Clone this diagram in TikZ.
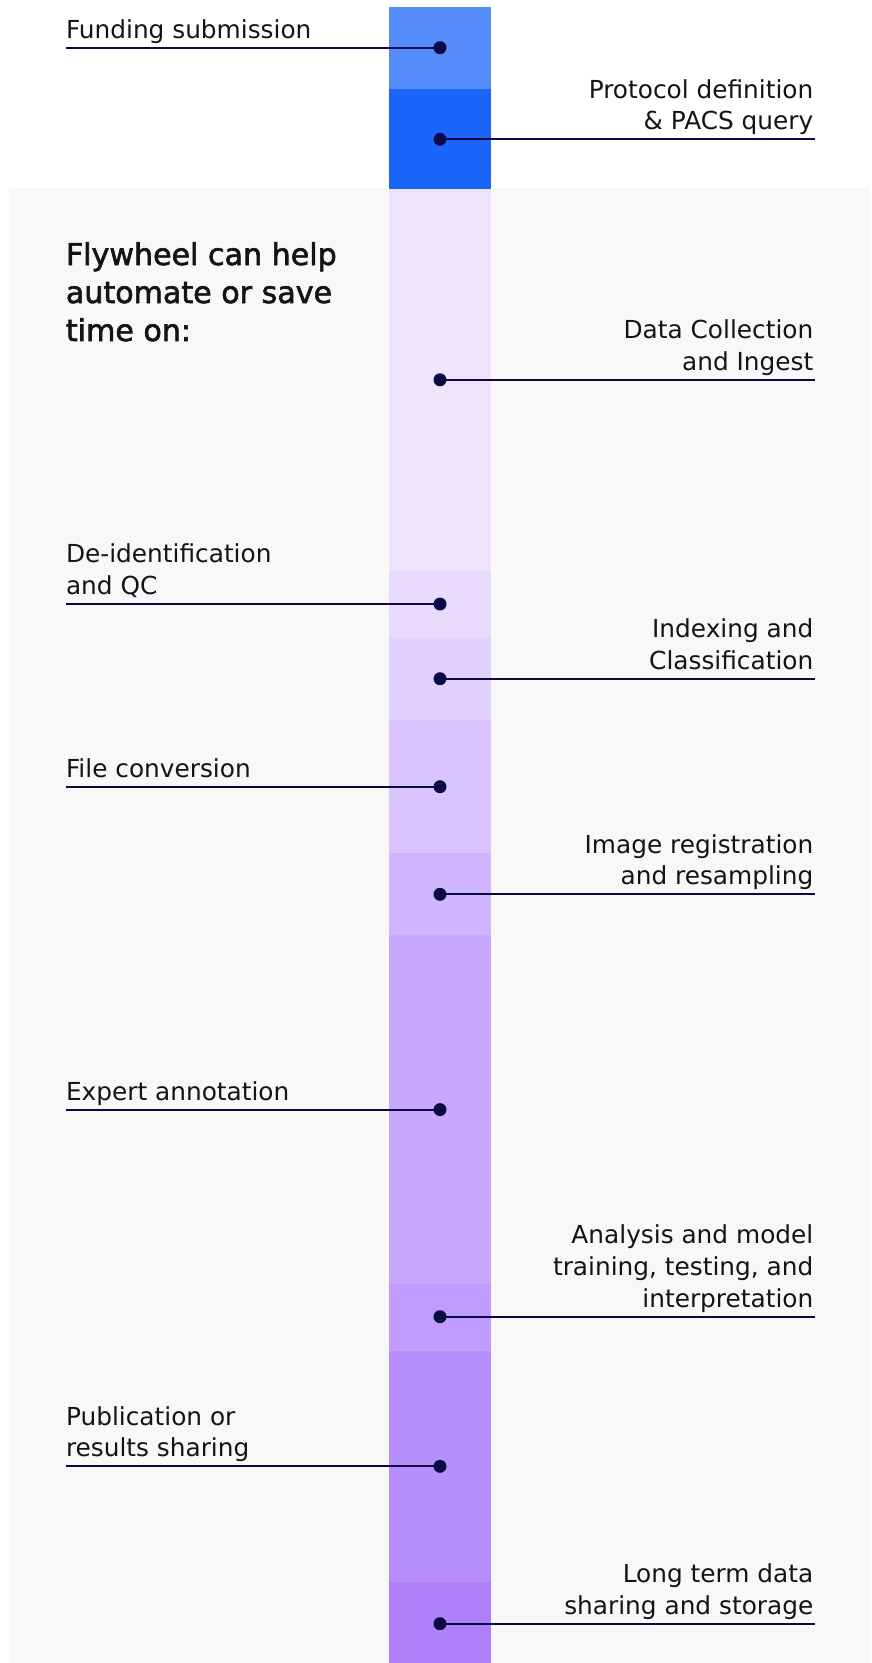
\documentclass[tikz,border=0pt]{standalone}
\usepackage{fontspec}
\setmainfont{DejaVu Sans}
\newfontfamily\titlefont[FakeBold=2]{DejaVu Sans}
\definecolor{bgray}{HTML}{F8F8F8}
\definecolor{navy}{HTML}{0B0A45}
\definecolor{ink}{HTML}{141418}
\definecolor{sa}{HTML}{548BF9}
\definecolor{sb}{HTML}{1C65FA}
\definecolor{sc}{HTML}{EEE4FC}
\definecolor{sd}{HTML}{E8DBFD}
\definecolor{se}{HTML}{E1D1FE}
\definecolor{sf}{HTML}{D9C4FE}
\definecolor{sg}{HTML}{CFB5FD}
\definecolor{sh}{HTML}{C7A8FD}
\definecolor{si}{HTML}{BF9CFD}
\definecolor{sj}{HTML}{B78FFC}
\definecolor{sk}{HTML}{AE81FB}
\tikzset{
  dotn/.style={circle,fill=navy,inner sep=0pt,minimum size=13pt},
  conn/.style={draw=navy,line width=2pt},
  lbl/.style={inner sep=0pt,text=ink,font=\fontsize{24.8}{31.8}\selectfont},
  lblL/.style={lbl,anchor=base west,align=left},
  lblR/.style={lbl,anchor=base east,align=right},
  ttl/.style={inner sep=0pt,text=ink,anchor=base west,align=left,font=\titlefont\fontsize{30.1}{38}\selectfont}
}
\begin{document}
\begin{tikzpicture}[x=1pt,y=-1pt]
\useasboundingbox (0,0) rectangle (872,1663);
\fill[white] (0,0) rectangle (872,1663);
\fill[bgray] (9,188) rectangle (870,1663);
% bar segments
\fill[sa] (389,7) rectangle (491,89);
\fill[sb] (389,89) rectangle (491,189);
\fill[sc] (389,189) rectangle (491,571);
\fill[sd] (389,571) rectangle (491,638);
\fill[se] (389,638) rectangle (491,720);
\fill[sf] (389,720) rectangle (491,853);
\fill[sg] (389,853) rectangle (491,935);
\fill[sh] (389,935) rectangle (491,1284);
\fill[si] (389,1284) rectangle (491,1351);
\fill[sj] (389,1351) rectangle (491,1582);
\fill[sk] (389,1582) rectangle (491,1663);
% line ends
\coordinate (e1) at (65.8,47.7);
\coordinate (e2) at (815,139.3);
\coordinate (e3) at (815,379.8);
\coordinate (e4) at (65.8,604);
\coordinate (e5) at (815,678.7);
\coordinate (e6) at (65.8,786.7);
\coordinate (e7) at (815,894.3);
\coordinate (e8) at (65.8,1109.6);
\coordinate (e9) at (815,1316.7);
\coordinate (e10) at (65.8,1466.3);
\coordinate (e11) at (815,1623.7);
% dots
\node[dotn] (d1) at (440,47.7) {};
\node[dotn] (d2) at (440,139.3) {};
\node[dotn] (d3) at (440,379.8) {};
\node[dotn] (d4) at (440,604) {};
\node[dotn] (d5) at (440,678.7) {};
\node[dotn] (d6) at (440,786.7) {};
\node[dotn] (d7) at (440,894.3) {};
\node[dotn] (d8) at (440,1109.6) {};
\node[dotn] (d9) at (440,1316.7) {};
\node[dotn] (d10) at (440,1466.3) {};
\node[dotn] (d11) at (440,1623.7) {};
% connectors
\foreach \i in {1,...,11} { \draw[conn] (d\i.center) -- (e\i); }
% title
\node[ttl] (title) at (65.7,341) {Flywheel can help\\automate or save\\time on:};
% labels (anchored at last baseline)
\node[lblL] (t1) at (65.8,38.5) {Funding submission};
\node[lblR] (t2) at (813.5,129.8) {Protocol definition\\\& PACS query};
\node[lblR] (t3) at (813.5,370.3) {Data Collection\\and Ingest};
\node[lblL] (t4) at (65.8,594.5) {De-identification\\and QC};
\node[lblR] (t5) at (813.5,669.2) {Indexing and\\Classification};
\node[lblL] (t6) at (65.8,777.2) {File conversion};
\node[lblR] (t7) at (813.5,884.8) {Image registration\\and resampling};
\node[lblL] (t8) at (65.8,1100.1) {Expert annotation};
\node[lblR] (t9) at (813.5,1307.2) {Analysis and model\\training, testing, and\\interpretation};
\node[lblL] (t10) at (65.8,1456.8) {Publication or\\results sharing};
\node[lblR] (t11) at (813.5,1614.2) {Long term data\\sharing and storage};
\end{tikzpicture}
\end{document}
